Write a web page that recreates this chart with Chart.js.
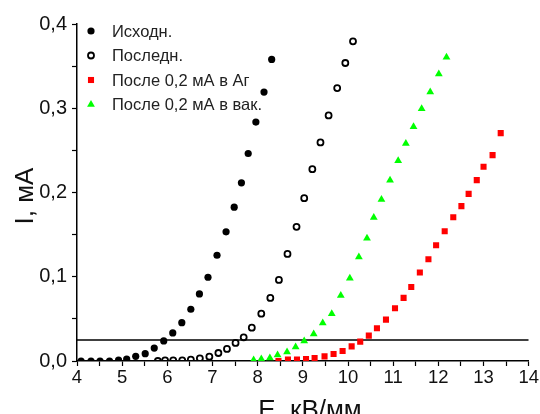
<!DOCTYPE html>
<html lang="ru">
<head>
    <meta charset="UTF-8">
    <title>I(E)</title>
    <script src="https://cdn.jsdelivr.net/npm/chart.js"></script>
    <style>
        body { margin: 0; background: #fff; }
        #chart { display: block; }
    </style>
</head>
<body>
    <canvas id="chart" width="540" height="414"></canvas>

    <script>
    // Исходн. (filled circles)
    const initialE = [4.09, 4.31, 4.51, 4.72, 4.92, 5.10, 5.30, 5.51, 5.71, 5.92, 6.12, 6.32, 6.52, 6.71, 6.90, 7.10, 7.30, 7.48, 7.64, 7.79, 7.96, 8.14, 8.31];
    const initialI = [0, 0, 0, 0, 0.001, 0.0024, 0.0055, 0.0087, 0.0154, 0.0238, 0.0333, 0.0455, 0.0614, 0.0796, 0.0994, 0.1255, 0.1533, 0.1826, 0.2115, 0.2463, 0.2836, 0.3192, 0.358];

    // Последн. (open circles)
    const lastE = [5.79, 5.95, 6.13, 6.33, 6.52, 6.72, 6.93, 7.13, 7.32, 7.51, 7.69, 7.87, 8.08, 8.28, 8.47, 8.66, 8.86, 9.03, 9.21, 9.39, 9.57, 9.76, 9.94, 10.11];
    const lastI = [0, 0.0008, 0.0008, 0.0008, 0.0016, 0.0032, 0.0051, 0.0095, 0.0143, 0.0214, 0.0281, 0.0396, 0.0562, 0.0749, 0.0962, 0.1271, 0.1592, 0.1933, 0.2277, 0.2594, 0.2915, 0.324, 0.3537, 0.3794];

    // После 0,2 мА в Аг (red squares)
    const argonE = [8.46, 8.67, 8.87, 9.07, 9.26, 9.48, 9.68, 9.88, 10.08, 10.27, 10.46, 10.64, 10.84, 11.04, 11.23, 11.40, 11.59, 11.78, 11.95, 12.14, 12.33, 12.51, 12.67, 12.85, 13.00, 13.20, 13.38];
    const argonI = [0, 0.0016, 0.0016, 0.0024, 0.0036, 0.0055, 0.0083, 0.0119, 0.0174, 0.023, 0.0301, 0.0388, 0.0491, 0.0626, 0.0749, 0.0879, 0.105, 0.1208, 0.1374, 0.1541, 0.1707, 0.1838, 0.1984, 0.2147, 0.2305, 0.2444, 0.2705];

    // После 0,2 мА в вак. (green triangles)
    const vacuumE = [7.91, 8.08, 8.27, 8.44, 8.65, 8.84, 9.03, 9.24, 9.44, 9.64, 9.84, 10.04, 10.24, 10.42, 10.57, 10.74, 10.93, 11.11, 11.28, 11.45, 11.63, 11.82, 12.01, 12.18];
    const vacuumI = [0.0012, 0.0024, 0.0036, 0.0071, 0.0107, 0.0166, 0.0238, 0.0321, 0.0451, 0.0562, 0.0776, 0.0982, 0.1235, 0.1457, 0.1703, 0.1917, 0.2146, 0.2376, 0.2582, 0.278, 0.2994, 0.3192, 0.3406, 0.3604];

    // threshold line
    const thresholdE = [4, 14];
    const thresholdI = [0.025, 0.025];

    const labels = ['Исходн.', 'Последн.', 'После 0,2 мА в Аг', 'После 0,2 мА в вак.'];

    const toPoints = (xs, ys) => xs.map((x, i) => ({ x: x, y: ys[i] }));

    const font = 'Arial, "Liberation Sans", sans-serif';

    // legend and axis titles drawn by hand, positions as in the original plot
    const decorPlugin = {
        id: 'decor',
        afterDraw(chart) {
            const ctx = chart.ctx;
            ctx.save();
            const rows = chart.data.datasets.filter(d => d.label);
            rows.forEach((ds, i) => {
                const y = 31 + i * 24.5;
                ctx.fillStyle = ds.backgroundColor;
                ctx.strokeStyle = ds.borderColor;
                ctx.lineWidth = ds.borderWidth;
                Chart.helpers.drawPoint(ctx, {
                    pointStyle: ds.pointStyle,
                    radius: ds.pointRadius,
                    rotation: 0,
                    borderWidth: ds.borderWidth
                }, 91, y);
                ctx.fillStyle = '#222';
                ctx.font = '16.5px ' + font;
                ctx.textAlign = 'left';
                ctx.textBaseline = 'middle';
                ctx.fillText(ds.label, 112, y + 1);
            });

            ctx.fillStyle = '#111';
            ctx.font = '26px ' + font;
            ctx.textAlign = 'center';
            ctx.textBaseline = 'alphabetic';
            ctx.fillText('E, кВ/мм', 310, 418);

            ctx.translate(33, 196);
            ctx.rotate(-Math.PI / 2);
            ctx.fillText('I, мА', 0, 0);
            ctx.restore();
        }
    };

    const ctx = document.getElementById('chart').getContext('2d');
    new Chart(ctx, {
        type: 'scatter',
        data: {
            datasets: [
                {
                    label: labels[0],
                    data: toPoints(initialE, initialI),
                    pointStyle: 'circle',
                    pointRadius: 3.6,
                    backgroundColor: '#000',
                    borderColor: '#000',
                    borderWidth: 0
                },
                {
                    label: labels[1],
                    data: toPoints(lastE, lastI),
                    pointStyle: 'circle',
                    pointRadius: 3,
                    backgroundColor: 'rgba(0,0,0,0)',
                    borderColor: '#000',
                    borderWidth: 1.8
                },
                {
                    label: labels[2],
                    data: toPoints(argonE, argonI),
                    pointStyle: 'rect',
                    pointRadius: 4.3,
                    backgroundColor: '#ff0000',
                    borderColor: '#ff0000',
                    borderWidth: 0
                },
                {
                    label: labels[3],
                    data: toPoints(vacuumE, vacuumI),
                    pointStyle: 'triangle',
                    pointRadius: 4.5,
                    backgroundColor: '#00ff00',
                    borderColor: '#00ff00',
                    borderWidth: 0
                },
                {
                    type: 'line',
                    label: '',
                    data: toPoints(thresholdE, thresholdI),
                    borderColor: '#000',
                    borderWidth: 1.5,
                    pointRadius: 0,
                    fill: false
                }
            ]
        },
        options: {
            responsive: false,
            animation: false,
            layout: { padding: { top: 24, right: 11, left: 0, bottom: 0 } },
            plugins: {
                legend: { display: false },
                tooltip: { enabled: false }
            },
            scales: {
                x: {
                    type: 'linear',
                    min: 4,
                    max: 14,
                    afterFit: scale => { scale.height = 53; },
                    border: { color: '#000', width: 1.5 },
                    grid: { drawOnChartArea: false, drawTicks: true, tickLength: 5, tickColor: '#000', tickWidth: 1.2 },
                    ticks: {
                        stepSize: 0.5,
                        autoSkip: false,
                        maxRotation: 0,
                        padding: 1,
                        color: '#111',
                        font: { family: font, size: 18.5 },
                        callback: v => Number.isInteger(v) ? String(v) : ''
                    }
                },
                y: {
                    min: 0,
                    max: 0.4,
                    afterFit: scale => { scale.width = 77; },
                    border: { color: '#000', width: 1.5 },
                    grid: { drawOnChartArea: false, drawTicks: true, tickLength: 5, tickColor: '#000', tickWidth: 1.2 },
                    ticks: {
                        stepSize: 0.05,
                        autoSkip: false,
                        padding: 5,
                        color: '#111',
                        font: { family: font, size: 20 },
                        callback: v => Math.round(v * 100) % 10 === 0 ? v.toFixed(1).replace('.', ',') : ''
                    }
                }
            }
        },
        plugins: [decorPlugin]
    });
    </script>
</body>
</html>
